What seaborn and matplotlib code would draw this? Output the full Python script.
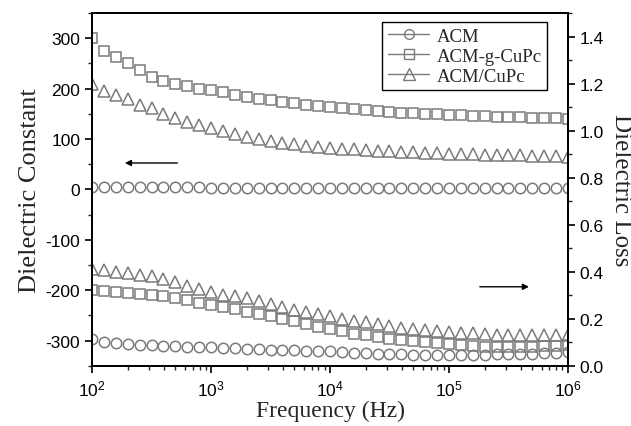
"""
Dielectric constant and dielectric loss vs frequency for ACM composites
"""

import matplotlib
matplotlib.use("Agg")
import matplotlib.pyplot as plt
from matplotlib.lines import Line2D
from matplotlib.ticker import MultipleLocator
import pandas as pd
import seaborn as sns

# measurement frequencies (Hz), 10 points per decade
freq = [100, 126, 158, 200, 251, 316, 398, 501, 631, 794,
        1000, 1259, 1585, 1995, 2512, 3162, 3981, 5012, 6310, 7943,
        10000, 12589, 15849, 19953, 25119, 31623, 39811, 50119, 63096, 79433,
        100000, 125893, 158489, 199526, 251189, 316228, 398107, 501187, 630957, 794328,
        1000000]

series_names = ["ACM", "ACM-g-CuPc", "ACM/CuPc"]

# dielectric constant (left axis)
eps_acm = [5, 4, 4, 4, 4, 4, 4, 4, 4, 4,
           3, 3, 3, 3, 3, 3, 3, 3, 3, 3,
           3, 3, 3, 3, 3, 3, 3, 3, 3, 3,
           3, 3, 3, 3, 3, 2, 2, 2, 2, 2, 2]
eps_gcupc = [300, 274, 262, 250, 237, 224, 216, 210, 205, 200,
             197, 193, 188, 184, 180, 177, 174, 171, 168, 165,
             163, 161, 159, 157, 155, 154, 152, 151, 150, 149,
             148, 147, 146, 145, 144, 143, 143, 142, 141, 141, 140]
eps_cupc = [210, 195, 187, 179, 168, 161, 150, 141, 134, 128,
            121, 116, 110, 105, 101, 97, 93, 90, 87, 85,
            83, 81, 80, 78, 77, 76, 75, 74, 73, 72,
            71, 70.5, 70, 69, 68.5, 68, 67.5, 67, 66.5, 66, 65]

# dielectric loss (right axis)
loss_acm = [0.112, 0.103, 0.095, 0.092, 0.090, 0.088, 0.086, 0.084, 0.082, 0.080,
            0.078, 0.076, 0.075, 0.073, 0.071, 0.069, 0.068, 0.066, 0.064, 0.062,
            0.061, 0.058, 0.056, 0.054, 0.052, 0.051, 0.050, 0.048, 0.047, 0.047,
            0.047, 0.047, 0.048, 0.048, 0.050, 0.050, 0.051, 0.052, 0.054, 0.055, 0.058]
loss_gcupc = [0.321, 0.318, 0.314, 0.311, 0.306, 0.302, 0.295, 0.288, 0.278, 0.266,
              0.257, 0.249, 0.240, 0.230, 0.221, 0.212, 0.200, 0.189, 0.178, 0.166,
              0.157, 0.146, 0.136, 0.129, 0.122, 0.115, 0.110, 0.105, 0.100, 0.095,
              0.091, 0.087, 0.084, 0.082, 0.081, 0.081, 0.081, 0.081, 0.083, 0.086, 0.089]
loss_cupc = [0.413, 0.409, 0.401, 0.394, 0.387, 0.381, 0.370, 0.356, 0.340, 0.328,
             0.315, 0.303, 0.296, 0.287, 0.275, 0.262, 0.250, 0.237, 0.227, 0.220,
             0.211, 0.200, 0.191, 0.185, 0.176, 0.168, 0.162, 0.157, 0.151, 0.146,
             0.143, 0.140, 0.138, 0.135, 0.133, 0.132, 0.130, 0.129, 0.129, 0.129, 0.131]

markers = ["o", "s", "^"]
GRAY = "#7a7a7a"

sns.set_style("ticks")
plt.rcParams["font.family"] = ["Liberation Sans", "DejaVu Sans"]
plt.rcParams["mathtext.default"] = "regular"
plt.rcParams["axes.unicode_minus"] = False
plt.rcParams["xtick.direction"] = "out"
plt.rcParams["ytick.direction"] = "out"

SERIF = ["Liberation Serif", "DejaVu Serif"]

df_eps = pd.DataFrame({"freq": freq, "ACM": eps_acm,
                       "ACM-g-CuPc": eps_gcupc, "ACM/CuPc": eps_cupc})
df_loss = pd.DataFrame({"freq": freq, "ACM": loss_acm,
                        "ACM-g-CuPc": loss_gcupc, "ACM/CuPc": loss_cupc})

fig = plt.figure(figsize=(6.31, 4.27), dpi=100)
ax = fig.add_axes([0.146, 0.141, 0.754, 0.826])
ax2 = ax.twinx()

marker_kw = dict(linestyle="", markerfacecolor="none", markeredgecolor=GRAY,
                 markeredgewidth=1.1, color=GRAY, legend=False)
for name, m in zip(series_names, markers):
    ms = 8.5 if m == "^" else 7.5
    sns.lineplot(data=df_eps, x="freq", y=name, marker=m, markersize=ms, ax=ax, **marker_kw)
    sns.lineplot(data=df_loss, x="freq", y=name, marker=m, markersize=ms, ax=ax2, **marker_kw)

ax.set_xscale("log")
ax.set_xlim(1e2, 1e6)
ax.set_ylim(-350, 350)
ax.set_yticks([-300, -200, -100, 0, 100, 200, 300])
ax.yaxis.set_minor_locator(MultipleLocator(50))
ax2.set_ylim(0, 1.5)
ax2.set_yticks([0.0, 0.2, 0.4, 0.6, 0.8, 1.0, 1.2, 1.4])
ax2.set_yticklabels([f"{v:.1f}" for v in [0.0, 0.2, 0.4, 0.6, 0.8, 1.0, 1.2, 1.4]])
ax2.yaxis.set_minor_locator(MultipleLocator(0.1))

for a in (ax, ax2):
    for s in a.spines.values():
        s.set_linewidth(1.3)
        s.set_color("black")
    a.tick_params(which="major", length=5, width=1.2, labelsize=12.5, colors="black")
    a.tick_params(which="minor", length=3, width=1.0)
ax.tick_params(axis="x", pad=4)
ax.tick_params(axis="y", right=False)
ax2.tick_params(axis="y", left=False)

ax.set_xlabel("Frequency (Hz)", family=SERIF, fontsize=17, labelpad=1)
ax.set_ylabel("Dielectric Constant", family=SERIF, fontsize=19, labelpad=3)
ax2.set_ylabel("Dielectric Loss", family=SERIF, fontsize=18, rotation=270, labelpad=20)

# direction arrows
ax.annotate("", xy=(0.063, 0.575), xytext=(0.185, 0.575), xycoords="axes fraction",
            arrowprops=dict(arrowstyle="-|>", color="black", lw=1.0, mutation_scale=9))
ax2.annotate("", xy=(0.924, 0.224), xytext=(0.809, 0.224), xycoords="axes fraction",
             arrowprops=dict(arrowstyle="-|>", color="black", lw=1.0, mutation_scale=9))

handles = [Line2D([], [], color=GRAY, lw=1.0, marker=m, markersize=7 if m != "^" else 8,
                  markerfacecolor="none", markeredgecolor=GRAY, markeredgewidth=1.0)
           for m in markers]
leg = ax2.legend(handles, series_names, loc="upper right", bbox_to_anchor=(0.965, 0.985),
                 prop={"family": SERIF, "size": 13.5}, frameon=True, fancybox=False,
                 framealpha=1, edgecolor="black", handlelength=2.2, handletextpad=0.4,
                 labelspacing=0.15, borderpad=0.3, borderaxespad=0.2)
leg.get_frame().set_linewidth(1.0)

fig.savefig("out.png", dpi=100)
